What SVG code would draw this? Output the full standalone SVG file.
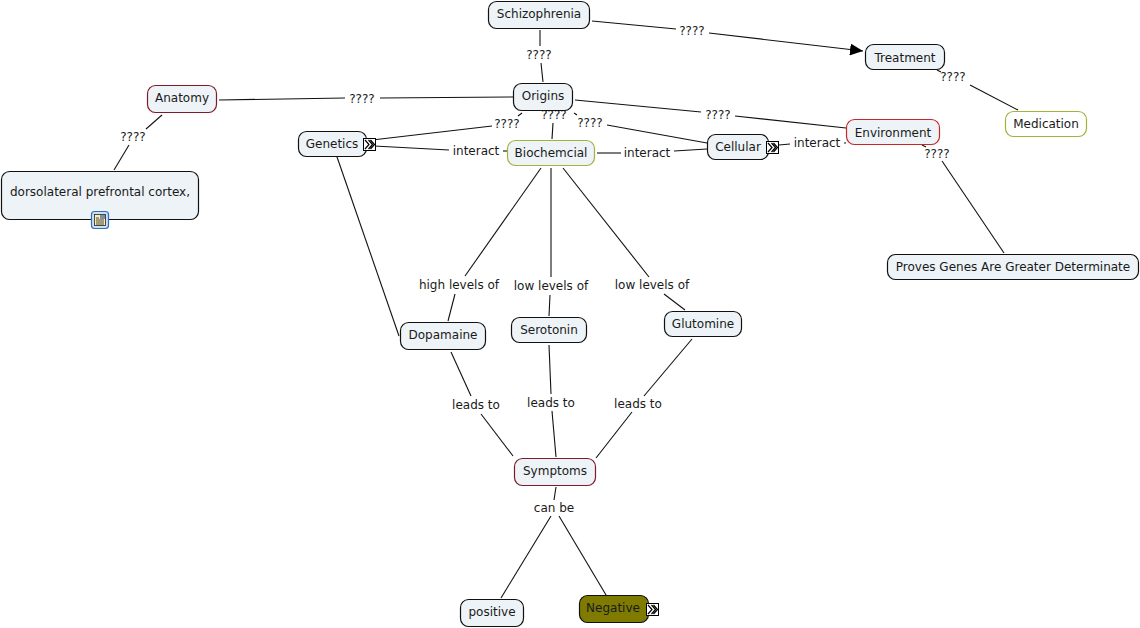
<svg xmlns="http://www.w3.org/2000/svg" width="1140" height="628" viewBox="0 0 1140 628">
<style>
text{font-family:"DejaVu Sans",Verdana,sans-serif;font-size:12px;fill:#1a1a1a;text-anchor:middle}
.n{fill:#edf3f6;stroke:#111;stroke-width:1.2}
.r{stroke:#7d1c28}
.e{stroke:#c42a2a}
.g{stroke:#a3b23a}
.w{fill:#fff}
.o{fill:#7f7a00;stroke:#111}
#connectors line{stroke:#111;stroke-width:1.1}
.x{fill:#fff;stroke:#000;stroke-width:1}
.c{fill:none;stroke:#000;stroke-width:1.2}
</style>
<defs>
<g id="more"><rect class="x" x="0.5" y="0.5" width="12" height="12"/><path class="c" d="M2 2l4 4.500-4 4.500M5.500 2l4 4.500-4 4.500M7.500 2l4 4.500-4 4.500"/></g>
<marker id="a" markerUnits="userSpaceOnUse" markerWidth="14" markerHeight="12" refX="13" refY="6" orient="auto"><path d="M0 0L13 6L0 12z" fill="#000"/></marker>
</defs>
<g id="connectors">
<line x1="540" y1="30" x2="540" y2="46"/><line x1="541" y1="63" x2="543" y2="82"/>
<line x1="592" y1="21" x2="676" y2="29"/><line x1="709" y1="33" x2="863" y2="51" marker-end="url(#a)"/>
<line x1="937" y1="70" x2="941" y2="72"/><line x1="970" y1="85" x2="1018" y2="110"/>
<line x1="219" y1="100" x2="345" y2="98"/><line x1="380" y1="98" x2="513" y2="97"/>
<line x1="162" y1="115" x2="146" y2="129"/><line x1="129" y1="145" x2="114" y2="170"/>
<line x1="575" y1="100" x2="701" y2="112"/><line x1="735" y1="116" x2="846" y2="128"/>
<line x1="922" y1="145" x2="926" y2="147"/><line x1="942" y1="161" x2="1004" y2="253"/>
<line x1="522" y1="113" x2="518" y2="116"/><line x1="492" y1="126" x2="372" y2="140"/>
<line x1="553" y1="123" x2="552" y2="139"/>
<line x1="574" y1="113" x2="577" y2="115"/><line x1="607" y1="125" x2="707" y2="143"/>
<line x1="374" y1="146" x2="449" y2="150"/><line x1="503" y1="151" x2="507" y2="151"/>
<line x1="597" y1="153" x2="621" y2="153"/><line x1="674" y1="151" x2="707" y2="149"/>
<line x1="779" y1="145" x2="790" y2="144"/><line x1="844" y1="143" x2="846" y2="143"/>
<line x1="336" y1="154" x2="399" y2="336"/>
<line x1="541" y1="168" x2="465" y2="276"/><line x1="455" y1="294" x2="448" y2="321"/>
<line x1="551" y1="168" x2="551" y2="277"/><line x1="550" y1="295" x2="549" y2="316"/>
<line x1="563" y1="168" x2="649" y2="277"/><line x1="664" y1="294" x2="685" y2="310"/>
<line x1="451" y1="352" x2="471" y2="396"/><line x1="481" y1="414" x2="513" y2="456"/>
<line x1="549" y1="345" x2="551" y2="394"/><line x1="552" y1="411" x2="556" y2="457"/>
<line x1="692" y1="339" x2="644" y2="396"/><line x1="632" y1="412" x2="596" y2="458"/>
<line x1="556" y1="487" x2="554" y2="500"/>
<line x1="551" y1="516" x2="501" y2="598"/><line x1="559" y1="516" x2="609" y2="600"/>
</g>
<g id="labels">
<text x="539" y="59">????</text><text x="692" y="35">????</text><text x="953" y="81">????</text>
<text x="362" y="103">????</text><text x="133" y="141">????</text><text x="718" y="119">????</text>
<text x="937" y="158">????</text><text x="507" y="128">????</text><text x="554" y="119">????</text><text x="590" y="127">????</text>
<text x="476" y="155">interact</text><text x="647" y="157">interact</text><text x="817" y="147">interact</text>
<text x="459" y="289">high levels of</text><text x="551" y="290">low levels of</text><text x="652" y="289">low levels of</text>
<text x="476" y="409">leads to</text><text x="551" y="407">leads to</text><text x="638" y="408">leads to</text>
<text x="554" y="512">can be</text>
</g>
<g id="schizophrenia"><rect class="n" x="488.500" y="1.500" width="101" height="27" rx="8"/><text x="539" y="18">Schizophrenia</text></g>
<g id="treatment"><rect class="n" x="865.500" y="44.500" width="79" height="25" rx="8"/><text x="905" y="62">Treatment</text></g>
<g id="medication"><rect class="n g w" x="1005.500" y="111.500" width="81" height="25" rx="8"/><text x="1046" y="128">Medication</text></g>
<g id="origins"><rect class="n" x="513.500" y="83.500" width="59" height="27" rx="8"/><text x="543" y="100">Origins</text></g>
<g id="anatomy"><rect class="n r" x="147.500" y="85.500" width="69" height="27" rx="8"/><text x="182" y="102">Anatomy</text></g>
<g id="genetics"><rect class="n" x="298.500" y="131.500" width="68" height="25" rx="8"/><text x="332" y="148">Genetics</text><use href="#more" x="363" y="138"/></g>
<g id="biochemcial"><rect class="n g" x="507.500" y="140.500" width="87" height="25" rx="8"/><text x="551" y="157">Biochemcial</text></g>
<g id="cellular"><rect class="n" x="707.500" y="134.500" width="61" height="25" rx="8"/><text x="738" y="151">Cellular</text><use href="#more" x="766" y="141"/></g>
<g id="environment"><rect class="n e" x="846.500" y="119.500" width="93" height="25" rx="8"/><text x="893" y="137">Environment</text></g>
<g id="proves"><rect class="n" x="887.500" y="254.500" width="251" height="25" rx="8"/><text x="1013" y="271">Proves Genes Are Greater Determinate</text></g>
<g id="dlpfc"><rect class="n" x="1.500" y="171.500" width="197" height="48" rx="8"/><text x="100" y="196">dorsolateral prefrontal cortex,</text>
<rect x="91.500" y="211.500" width="17" height="17" rx="3" fill="#cfe0f4" stroke="#2f6fc0" stroke-width="1.200"/><rect x="94.500" y="214.500" width="11" height="11" fill="#f6eeb4" stroke="#222" stroke-width="0.800"/><path d="M96 218h3M96 220h8M96 222h8M96 224h8" stroke="#222" stroke-width="0.800"/><rect x="100" y="215" width="5" height="4" fill="#7a8fb0"/></g>
<g id="dopamaine"><rect class="n" x="400.500" y="322.500" width="85" height="27" rx="8"/><text x="443" y="339">Dopamaine</text></g>
<g id="serotonin"><rect class="n" x="511.500" y="317.500" width="75" height="25" rx="8"/><text x="549" y="334">Serotonin</text></g>
<g id="glutomine"><rect class="n" x="664.500" y="311.500" width="77" height="25" rx="8"/><text x="703" y="328">Glutomine</text></g>
<g id="symptoms"><rect class="n r" x="514.500" y="458.500" width="81" height="27" rx="8"/><text x="555" y="475">Symptoms</text></g>
<g id="positive"><rect class="n" x="460.500" y="599.500" width="63" height="27" rx="8"/><text x="492" y="616">positive</text></g>
<g id="negative"><rect class="n o" x="579.500" y="595.500" width="69" height="27" rx="8"/><text x="613" y="612">Negative</text><use href="#more" x="646" y="603"/></g>
</svg>
